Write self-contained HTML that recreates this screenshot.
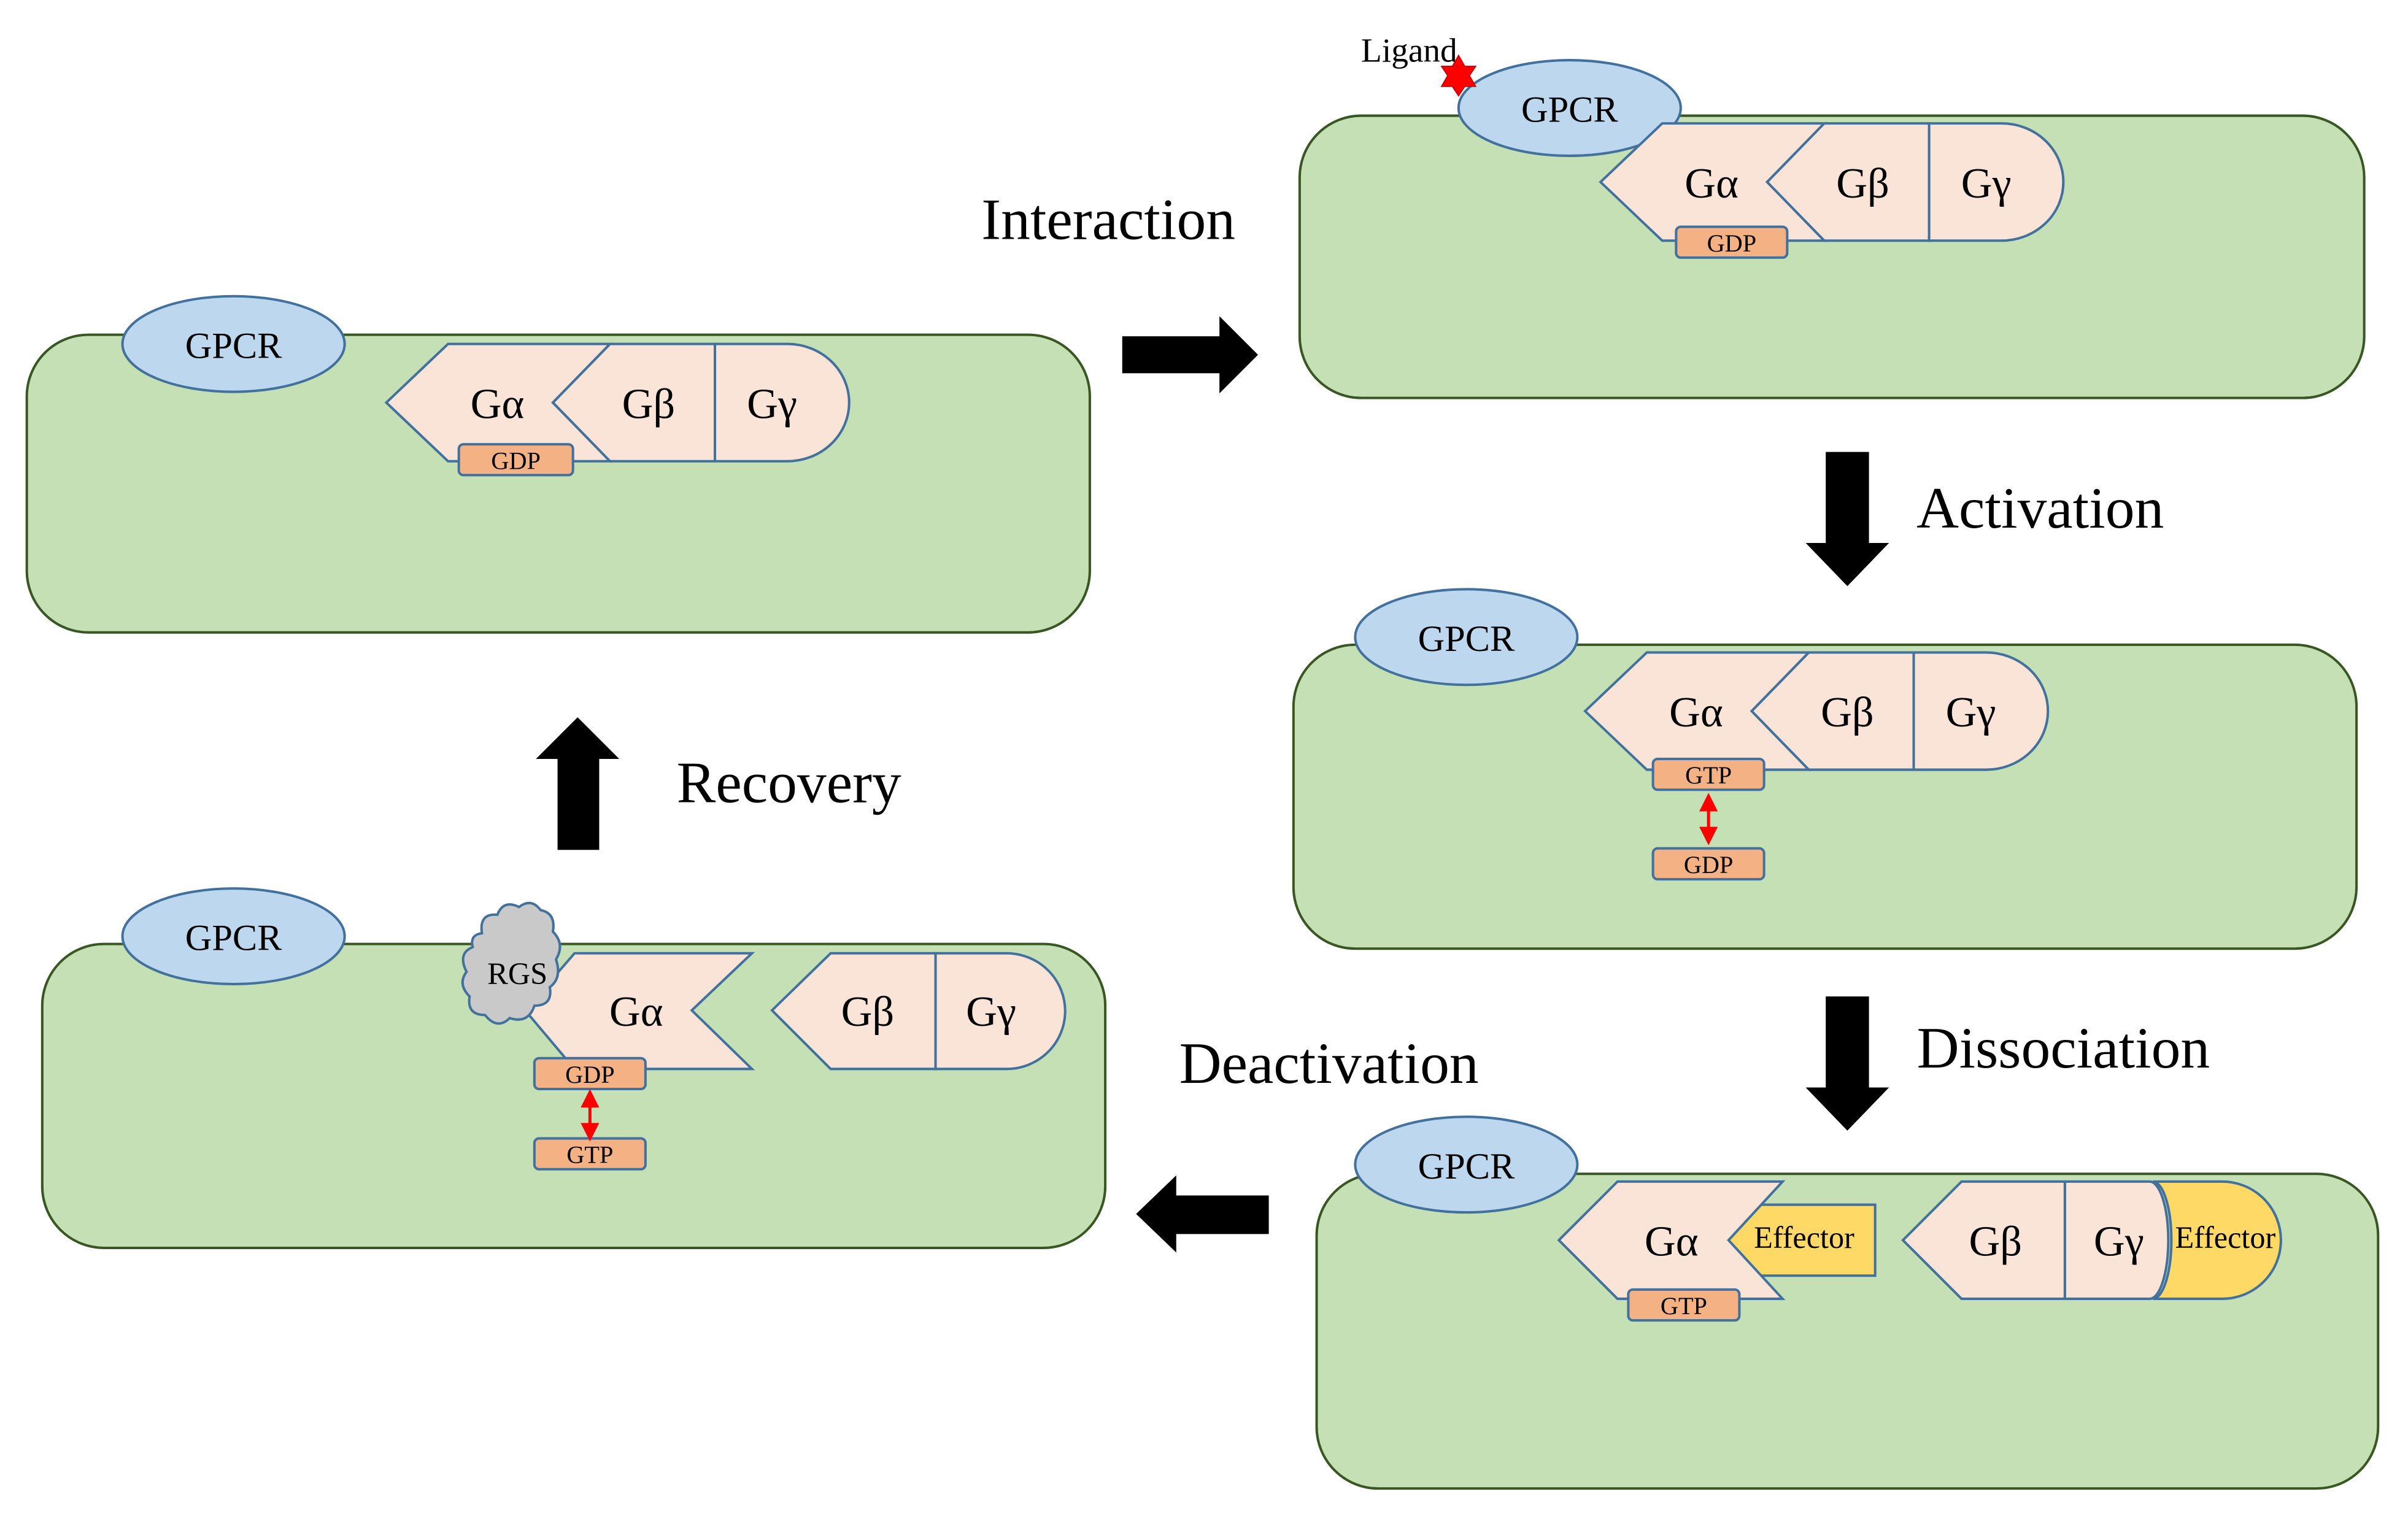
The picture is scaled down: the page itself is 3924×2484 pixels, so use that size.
<!DOCTYPE html>
<html><head><meta charset="utf-8"><style>
html,body{margin:0;padding:0;background:#fff;}
svg{display:block;}
text{font-family:"Liberation Serif",serif;fill:#000;}
</style></head><body>
<svg width="3924" height="2484" viewBox="0 0 1560 988" xmlns="http://www.w3.org/2000/svg">
<defs>
<g id="gab">
  <path d="M0,0 L40,-38 L145,-38 L108,0 L145,38 L40,38 Z" fill="#f9e4d7" stroke="#41719c" stroke-width="1.6"/>
  <path d="M108,0 L145,-38 L213,-38 L213,38 L145,38 Z" fill="#f9e4d7" stroke="#41719c" stroke-width="1.6"/>
  <path d="M213,-38 H260 A40 38 0 0 1 260,38 H213 Z" fill="#f9e4d7" stroke="#41719c" stroke-width="1.6"/>
  <text x="72" y="10" font-size="28" text-anchor="middle">Gα</text>
  <text x="170" y="10" font-size="28" text-anchor="middle">Gβ</text>
  <text x="250" y="10" font-size="28" text-anchor="middle">Gγ</text>
</g>
<g id="rarr">
  <line x1="0" y1="4" x2="0" y2="30" stroke="#f00" stroke-width="2"/>
  <path d="M-6,12 L0,0 L6,12 Z M-6,22 L0,34 L6,22 Z" fill="#f00"/>
</g>
</defs>
<g stroke="#385723" stroke-width="1.6" fill="#c5e0b4">
  <rect x="17" y="217" width="689" height="193" rx="40"/>
  <rect x="842" y="75" width="690" height="183" rx="40"/>
  <rect x="838" y="418" width="689" height="197" rx="40"/>
  <rect x="853" y="761" width="688" height="204" rx="40"/>
  <rect x="27" y="612" width="689" height="197" rx="40"/>
</g>
<g fill="#bdd7ee" stroke="#41719c" stroke-width="1.6">
  <ellipse cx="151" cy="223" rx="72" ry="31"/>
  <ellipse cx="1017" cy="70" rx="72" ry="31"/>
  <ellipse cx="950" cy="413" rx="72" ry="31"/>
  <ellipse cx="950" cy="755" rx="72" ry="31"/>
  <ellipse cx="151" cy="607" rx="72" ry="31"/>
</g>
<g font-size="24" text-anchor="middle">
  <text x="151" y="232">GPCR</text>
  <text x="1017" y="79">GPCR</text>
  <text x="950" y="422">GPCR</text>
  <text x="950" y="764">GPCR</text>
  <text x="151" y="616">GPCR</text>
</g>
<!-- P1 -->
<use href="#gab" x="250" y="261"/>
<!-- P2 -->
<use href="#gab" x="1037" y="118"/>
<!-- P3 -->
<use href="#gab" x="1027" y="461"/>
<!-- P4 -->
<rect x="1118" y="781" width="97" height="46" fill="#ffd966" stroke="#41719c" stroke-width="1.6"/>
<path d="M1010,804 L1048,766 L1155,766 L1120,804 L1155,842 L1048,842 Z" fill="#f9e4d7" stroke="#41719c" stroke-width="1.6"/>
<text x="1083" y="814" font-size="28" text-anchor="middle">Gα</text>
<text x="1169" y="809" font-size="20" text-anchor="middle">Effector</text>
<path d="M1395,766 H1440 A38 38 0 0 1 1440,842 H1395 A12 38 0 0 0 1395,766 Z" fill="#ffd966" stroke="#41719c" stroke-width="1.6"/>
<path d="M1233,804 L1271,766 L1338,766 L1338,842 L1271,842 Z" fill="#f9e4d7" stroke="#41719c" stroke-width="1.6"/>
<path d="M1338,766 H1393 A12 38 0 0 1 1393,842 H1338 Z" fill="#f9e4d7" stroke="#41719c" stroke-width="1.6"/>
<text x="1293" y="814" font-size="28" text-anchor="middle">Gβ</text>
<text x="1373" y="814" font-size="28" text-anchor="middle">Gγ</text>
<text x="1442" y="809" font-size="20" text-anchor="middle">Effector</text>
<!-- P5 -->
<path d="M340,655 L372,618 L487,618 L448,655 L487,693 L372,693 Z" fill="#f9e4d7" stroke="#41719c" stroke-width="1.6"/>
<text x="412" y="665" font-size="28" text-anchor="middle">Gα</text>
<path d="M500,655 L538,618 L606,618 L606,693 L538,693 Z" fill="#f9e4d7" stroke="#41719c" stroke-width="1.6"/>
<path d="M606,618 H652 A38 37.5 0 0 1 652,693 H606 Z" fill="#f9e4d7" stroke="#41719c" stroke-width="1.6"/>
<text x="562" y="665" font-size="28" text-anchor="middle">Gβ</text>
<text x="642" y="665" font-size="28" text-anchor="middle">Gγ</text>
<path d="M312,605 Q310,592 322,593 Q326,583 336,588 Q344,582 350,590 Q360,592 358,604 Q366,612 360,622 Q364,634 356,640 Q358,652 346,652 Q342,664 330,660 Q322,668 314,658 Q302,658 304,646 Q296,638 302,630 Q296,618 306,614 Q304,606 312,605 Z" fill="#c9c9c9" stroke="#41719c" stroke-width="1.6"/>
<text x="335" y="638" font-size="20" text-anchor="middle">RGS</text>
<!-- nucleotide boxes -->
<g fill="#f4b183" stroke="#41719c" stroke-width="1.6">
  <rect x="297" y="288" width="74" height="20" rx="3"/>
  <rect x="1086" y="147" width="72" height="20" rx="3"/>
  <rect x="1071" y="492" width="72" height="20" rx="3"/>
  <rect x="1071" y="550" width="72" height="20" rx="3"/>
  <rect x="1055" y="836" width="72" height="20" rx="3"/>
  <rect x="346" y="686" width="72" height="20" rx="3"/>
  <rect x="346" y="738" width="72" height="20" rx="3"/>
</g>
<g font-size="16" text-anchor="middle">
  <text x="334" y="304">GDP</text>
  <text x="1122" y="163">GDP</text>
  <text x="1107" y="508">GTP</text>
  <text x="1107" y="566">GDP</text>
  <text x="1091" y="852">GTP</text>
  <text x="382" y="702">GDP</text>
  <text x="382" y="754">GTP</text>
</g>
<use href="#rarr" x="1107" y="514"/>
<use href="#rarr" x="382" y="706"/>
<!-- ligand -->
<text x="913" y="40" font-size="22" text-anchor="middle">Ligand</text>
<path d="M945,36 L949,43 L956,43 L952,49 L956,56 L949,56 L945,62 L941,56 L934,56 L938,49 L934,43 L941,43 Z" fill="#f00" stroke="#c00" stroke-width="0.8"/>
<!-- block arrows -->
<g fill="#000">
  <path d="M727,218 H790 V205 L815,230 L790,255 V242 H727 Z"/>
  <path d="M1183,293 H1211 V352 H1224 L1197,380 L1170,352 H1183 Z"/>
  <path d="M1183,646 H1211 V705 H1224 L1197,733 L1170,705 H1183 Z"/>
  <path d="M822,775 H762 V762 L736,787 L762,812 V800 H822 Z"/>
  <path d="M361,551 V492 H347 L374,465 L401,492 H388 V551 Z"/>
</g>
<g font-size="38" text-anchor="middle">
  <text x="718" y="155">Interaction</text>
  <text x="1322" y="342">Activation</text>
  <text x="1337" y="692">Dissociation</text>
  <text x="861" y="702">Deactivation</text>
  <text x="511" y="520">Recovery</text>
</g>
</svg>
</body></html>
